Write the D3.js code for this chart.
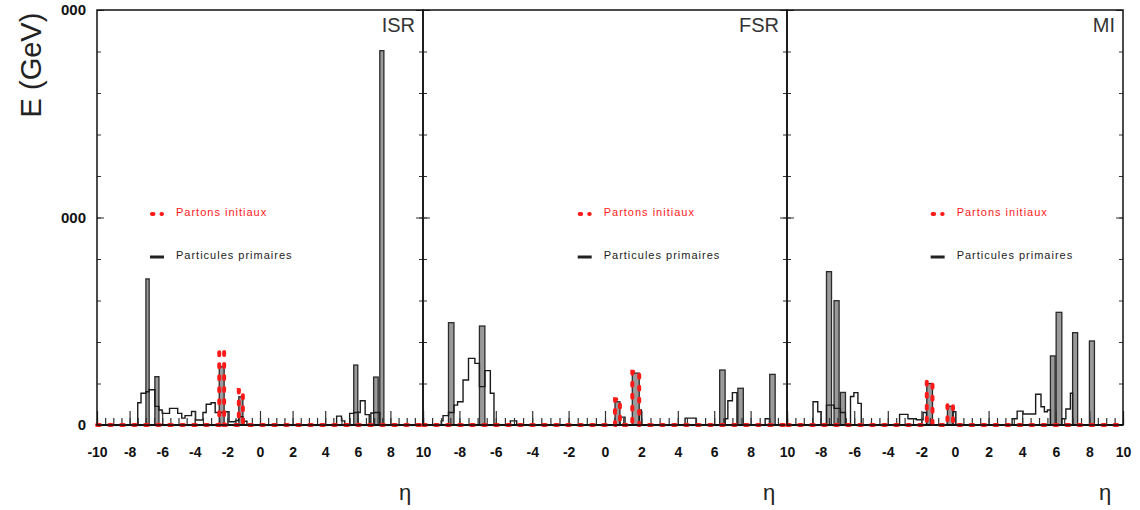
<!DOCTYPE html>
<html>
<head>
<meta charset="utf-8">
<script src="https://cdn.jsdelivr.net/npm/d3@7"></script>
<style>
  html, body { margin: 0; padding: 0; background: #fff; }
  svg { display: block; font-family: "Liberation Sans", Arial, sans-serif; }
</style>
</head>
<body>
<svg id="chart" width="1140" height="510"></svg>
<script>
// ---------------- DATA ----------------
const panelNames = ["ISR", "FSR", "MI"];
const etaDomain = [-10, 10];
const energyDomain = [0, 2000];
const xMajorTicks = [-10, -8, -6, -4, -2, 0, 2, 4, 6, 8, 10];
const yMajorTicks = [0, 1000, 2000];
const yTickLabels = ["0", "000", "000"];
const legendLabels = ["Partons initiaux", "Particules primaires"];
const axisTitleY = "E (GeV)";
const axisTitleX = "η";

// Particules primaires : broad step histogram [etaLow, etaHigh, E]
const envISR = [
  [-7.5, -7.3, 107], [-7.3, -7.0, 153], [-7.0, -6.8, 160], [-6.8, -6.45, 170],
  [-6.45, -6.2, 90], [-6.2, -6.0, 72], [-6.0, -5.55, 56], [-5.55, -5.05, 80],
  [-5.05, -4.8, 56], [-4.8, -4.6, 33], [-4.6, -4.2, 45], [-4.2, -3.95, 65],
  [-3.95, -3.5, 24], [-3.5, -3.3, 60], [-3.3, -3.0, 100], [-3.0, -2.75, 107],
  [-2.75, -2.5, 60], [-2.5, -2.2, 60], [-2.2, -1.9, 64], [-1.9, -1.5, 16],
  [-1.5, -1.3, 22], [-1.3, -1.05, 40], [-1.05, -0.8, 18],
  [4.7, 5.0, 43], [5.0, 5.2, 20], [5.5, 5.75, 56], [5.75, 6.0, 60],
  [6.0, 6.15, 60], [6.15, 6.45, 117], [6.45, 6.7, 50], [6.8, 7.0, 58],
  [7.0, 7.25, 60], [7.25, 7.35, 60]
];
const spkISR = [
  [-7.0, -6.8, 704], [-6.45, -6.2, 233], [-2.5, -2.2, 281], [-1.3, -1.05, 136],
  [5.75, 6.0, 289], [6.97, 7.25, 231], [7.35, 7.6, 1804]
];
const envFSR = [
  [-9.0, -8.9, 20], [-8.9, -8.6, 45], [-8.6, -8.3, 60], [-8.3, -8.1, 96],
  [-8.1, -7.8, 112], [-7.8, -7.5, 217], [-7.5, -7.15, 321], [-7.15, -6.9, 297],
  [-6.9, -6.6, 185], [-6.6, -6.3, 262], [-6.3, -6.1, 153],
  [-5.2, -4.85, 20], [0.82, 1.1, 38], [1.88, 2.0, 72], [4.4, 5.0, 33],
  [6.6, 6.75, 30], [6.75, 7.0, 117], [7.0, 7.25, 156], [8.8, 9.05, 30]
];
const spkFSR = [
  [-8.6, -8.3, 493], [-6.9, -6.6, 477], [0.55, 0.82, 112], [1.5, 1.88, 250],
  [6.3, 6.6, 265], [7.3, 7.6, 177], [9.05, 9.35, 244]
];
const envMI = [
  [-8.45, -8.17, 112], [-8.17, -7.97, 64], [-7.65, -7.35, 96], [-7.35, -7.2, 96],
  [-7.2, -6.9, 80], [-6.9, -6.82, 80], [-6.82, -6.52, 60], [-6.22, -6.02, 137],
  [-6.02, -5.78, 156], [-5.78, -5.58, 104],
  [-3.3, -2.8, 51], [-2.8, -2.3, 30], [-2.3, -1.9, 25], [-1.9, -1.7, 60],
  [-0.12, 0.05, 64],
  [3.4, 3.7, 30], [3.7, 4.05, 67], [4.05, 4.8, 53], [4.8, 5.12, 148],
  [5.12, 5.32, 88], [5.32, 5.5, 64], [5.5, 5.68, 72], [6.36, 6.6, 30],
  [6.6, 6.87, 77], [6.87, 7.0, 153]
];
const spkMI = [
  [-7.65, -7.35, 739], [-7.2, -6.9, 599], [-6.82, -6.52, 157], [-1.68, -1.34, 200],
  [-0.45, -0.12, 90], [5.68, 5.96, 333], [6.02, 6.36, 543], [7.0, 7.3, 445],
  [8.0, 8.3, 405]
];
// Partons initiaux : red histogram [etaLow, etaHigh, E]
const partISR = [[-2.5, -2.2, 361], [-1.3, -1.05, 169]];
const partFSR = [[0.55, 0.82, 124], [1.5, 1.88, 257]];
const partMI  = [[-1.68, -1.34, 209], [-0.45, -0.12, 101]];

const envelopes = [envISR, envFSR, envMI];
const spikes = [spkISR, spkFSR, spkMI];
const partons = [partISR, partFSR, partMI];

// ---------------- LAYOUT ----------------
const panelEdges = [[97, 423], [423, 787], [787, 1123]];
const plotTop = 10, plotBottom = 425;
const legendEta = [-6.75, -1.5, -1.45];
const RED = "#ff1a1a";

const svg = d3.select("#chart");
const y = d3.scaleLinear().domain(energyDomain).range([plotBottom, plotTop]);

function stepPoints(segs) {
  const s = segs.slice().sort((a, b) => a[0] - b[0]);
  const pts = [[etaDomain[0], 0]];
  let prevHi = etaDomain[0];
  s.forEach(d => {
    if (d[0] > prevHi + 1e-9) pts.push([prevHi, 0]);
    pts.push([d[0], d[2]]);
    prevHi = d[1];
  });
  pts.push([prevHi, 0]);
  pts.push([etaDomain[1], 0]);
  return pts;
}

panelNames.forEach((name, i) => {
  const [L, R] = panelEdges[i];
  const x = d3.scaleLinear().domain(etaDomain).range([L, R]);
  const g = svg.append("g");
  const line = d3.line().x(d => x(d[0])).y(d => y(d[1])).curve(d3.curveStepAfter);

  // spikes (gray filled narrow bars)
  g.selectAll("rect.spk").data(spikes[i]).join("rect")
    .attr("x", d => x(d[0]))
    .attr("width", d => x(d[1]) - x(d[0]))
    .attr("y", d => y(d[2]))
    .attr("height", d => y(0) - y(d[2]))
    .attr("fill", "#9a9a9a")
    .attr("stroke", "#2a2a2a")
    .attr("stroke-width", 1.3);

  // envelope step histogram
  g.append("path")
    .attr("d", line(stepPoints(envelopes[i])))
    .attr("fill", "none")
    .attr("stroke", "#1a1a1a")
    .attr("stroke-width", 1.4);

  // x axis ticks (inward) - minor
  const minor = d3.range(-10, 10.01, 0.5);
  g.append("g").attr("transform", `translate(0,${plotBottom})`)
    .call(d3.axisBottom(x).tickValues(minor).tickSize(-7).tickFormat(""))
    .call(a => a.select(".domain").remove())
    .call(a => a.selectAll("line").attr("stroke", "#333").attr("stroke-width", 1.2));
  // x axis major with labels
  g.append("g").attr("transform", `translate(0,${plotBottom})`)
    .call(d3.axisBottom(x).tickValues(xMajorTicks).tickSizeInner(-14).tickSizeOuter(0).tickPadding(22)
      .tickFormat(v => (i > 0 && v === -10) ? "" : String(v)))
    .call(a => a.select(".domain").remove())
    .call(a => a.selectAll("line").attr("stroke", "#333").attr("stroke-width", 1.2))
    .call(a => a.selectAll("text").attr("font-size", 14).attr("font-weight", "bold")
      .attr("fill", "#111").attr("font-family", "Liberation Sans, Arial, sans-serif"));

  // y ticks inward on both sides
  const yMinor = d3.range(0, 2001, 200);
  ["left", "right"].forEach(side => {
    const pos = side === "left" ? L : R;
    const ax = side === "left" ? d3.axisLeft(y) : d3.axisRight(y);
    g.append("g").attr("transform", `translate(${pos},0)`)
      .call(ax.tickValues(yMinor).tickSize(-4).tickFormat(""))
      .call(a => a.select(".domain").remove())
      .call(a => a.selectAll("line").attr("stroke", "#333"));
    const ax2 = side === "left" ? d3.axisLeft(y) : d3.axisRight(y);
    g.append("g").attr("transform", `translate(${pos},0)`)
      .call(ax2.tickValues(yMajorTicks).tickSizeInner(-7).tickSizeOuter(0).tickPadding(11)
        .tickFormat((v, k) => (side === "left" && i === 0) ? yTickLabels[k] : ""))
      .call(a => a.select(".domain").remove())
      .call(a => a.selectAll("line").attr("stroke", "#333"))
      .call(a => a.selectAll("text").attr("font-size", 15).attr("font-weight", "bold")
        .attr("fill", "#111").attr("font-family", "Liberation Sans, Arial, sans-serif"));
  });

  // baseline
  g.append("line").attr("x1", L).attr("x2", R).attr("y1", y(0)).attr("y2", y(0))
    .attr("stroke", "#111").attr("stroke-width", 1.8);

  // red partons (dashed, round dots)
  g.append("path")
    .attr("d", line(stepPoints(partons[i])))
    .attr("fill", "none")
    .attr("stroke", RED)
    .attr("stroke-width", 4)
    .attr("stroke-linecap", "round")
    .attr("stroke-dasharray", "3 9");

  // frame
  g.append("rect").attr("x", L).attr("y", plotTop).attr("width", R - L).attr("height", plotBottom - plotTop)
    .attr("fill", "none").attr("stroke", "#111").attr("stroke-width", 1.5);

  // panel label
  g.append("text").attr("x", R - 8).attr("y", 32).attr("text-anchor", "end")
    .attr("font-size", 20).attr("fill", "#333").text(name);

  // legend
  const lx = x(legendEta[i]);
  g.append("line").attr("x1", lx + 2).attr("x2", lx + 12).attr("y1", 214).attr("y2", 214)
    .attr("stroke", RED).attr("stroke-width", 4).attr("stroke-linecap", "round")
    .attr("stroke-dasharray", "1.5 8");
  g.append("text").attr("x", lx + 26).attr("y", 216).attr("font-size", 11)
    .attr("letter-spacing", 1).attr("fill", RED).text(legendLabels[0]);
  g.append("line").attr("x1", lx).attr("x2", lx + 14).attr("y1", 257).attr("y2", 257)
    .attr("stroke", "#222").attr("stroke-width", 3);
  g.append("text").attr("x", lx + 26).attr("y", 259).attr("font-size", 11)
    .attr("letter-spacing", 1).attr("fill", "#222").text(legendLabels[1]);

  // eta label
  g.append("text").attr("x", R - 18).attr("y", 500).attr("text-anchor", "middle")
    .attr("font-size", 22).attr("fill", "#222").text(axisTitleX);
});

svg.append("text").attr("transform", "translate(41,65) rotate(-90)")
  .attr("text-anchor", "middle").attr("font-size", 29).attr("fill", "#222").text(axisTitleY);
</script>
</body>
</html>
